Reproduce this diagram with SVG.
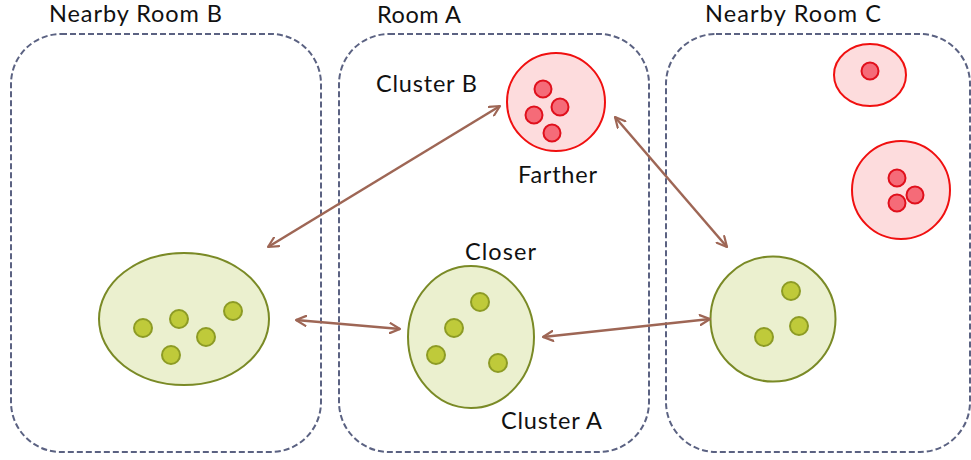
<svg xmlns="http://www.w3.org/2000/svg" width="971" height="460" viewBox="0 0 971 460">
<style>
.room{fill:none;stroke:#5b6282;stroke-width:2;stroke-dasharray:6 3}
.lbl{font-family:Lato,"Open Sans",sans-serif;font-size:23.5px;fill:#111}
.gbig{fill:#ebf0cf;stroke:#7a8a26;stroke-width:2}
.gdot{fill:#bfca3a;stroke:#8d9b25;stroke-width:2}
.rbig{fill:#fddcdd;stroke:#f01010;stroke-width:2}
.rdot{fill:#f56b78;stroke:#e0101c;stroke-width:2}
.conn{stroke:#9e6655;stroke-width:2.5;fill:none;marker-start:url(#ah);marker-end:url(#ah)}
</style>
<defs>
<marker id="ah" viewBox="0 0 12 12" refX="11" refY="6" markerWidth="12" markerHeight="12" markerUnits="userSpaceOnUse" orient="auto-start-reverse">
<path d="M1,1 L11,6 L1,11" fill="none" stroke="#9e6655" stroke-width="2.2" stroke-linecap="round" stroke-linejoin="round"/>
</marker>
</defs>
<g id="roomB">
<rect class="room" x="11" y="34" width="310" height="418" rx="50" ry="50"/>
<text class="lbl" x="49" y="22" textLength="173" lengthAdjust="spacing">Nearby Room B</text>
</g>
<g id="roomA">
<rect class="room" x="339" y="34" width="310" height="418" rx="50" ry="50"/>
<text class="lbl" x="377" y="23" textLength="84" lengthAdjust="spacing">Room A</text>
</g>
<g id="roomC">
<rect class="room" x="666" y="34" width="304" height="418" rx="50" ry="50"/>
<text class="lbl" x="705" y="22" textLength="176" lengthAdjust="spacing">Nearby Room C</text>
</g>
<g id="clusterB">
<circle class="rbig" cx="556" cy="102" r="49"/>
<circle class="rdot" cx="543" cy="89" r="8.5"/>
<circle class="rdot" cx="560" cy="107" r="8.5"/>
<circle class="rdot" cx="534" cy="115" r="8.5"/>
<circle class="rdot" cx="552" cy="133" r="8.5"/>
<text class="lbl" x="376" y="92" textLength="101" lengthAdjust="spacing">Cluster B</text>
<text class="lbl" x="518" y="183" textLength="79" lengthAdjust="spacing">Farther</text>
</g>
<g id="roomC-cluster1">
<ellipse class="rbig" cx="870" cy="75" rx="36" ry="31"/>
<circle class="rdot" cx="870" cy="71" r="8.5"/>
</g>
<g id="roomC-cluster2">
<circle class="rbig" cx="901" cy="190" r="49"/>
<circle class="rdot" cx="897" cy="178" r="8.5"/>
<circle class="rdot" cx="915" cy="195" r="8.5"/>
<circle class="rdot" cx="897" cy="203" r="8.5"/>
</g>
<g id="roomB-cluster">
<ellipse class="gbig" cx="184" cy="319" rx="85" ry="66"/>
<circle class="gdot" cx="143" cy="328" r="9"/>
<circle class="gdot" cx="179" cy="319" r="9"/>
<circle class="gdot" cx="233" cy="311" r="9"/>
<circle class="gdot" cx="206" cy="337" r="9"/>
<circle class="gdot" cx="171" cy="355" r="9"/>
</g>
<g id="clusterA">
<ellipse class="gbig" cx="471" cy="337" rx="63" ry="71"/>
<circle class="gdot" cx="480" cy="302" r="9"/>
<circle class="gdot" cx="454" cy="328" r="9"/>
<circle class="gdot" cx="436" cy="355" r="9"/>
<circle class="gdot" cx="498" cy="363" r="9"/>
<text class="lbl" x="465" y="260" textLength="71" lengthAdjust="spacing">Closer</text>
<text class="lbl" x="501" y="429" textLength="101" lengthAdjust="spacing">Cluster A</text>
</g>
<g id="roomC-cluster3">
<circle class="gbig" cx="773" cy="319" r="62.5"/>
<circle class="gdot" cx="791" cy="291" r="9"/>
<circle class="gdot" cx="799" cy="326" r="9"/>
<circle class="gdot" cx="764" cy="337" r="9"/>
</g>
<g id="connectors">
<line class="conn" x1="268" y1="247" x2="500" y2="106"/>
<line class="conn" x1="296" y1="320" x2="400" y2="329"/>
<line class="conn" x1="543" y1="337" x2="710" y2="319"/>
<line class="conn" x1="615" y1="117" x2="727" y2="247"/>
</g>
</svg>
